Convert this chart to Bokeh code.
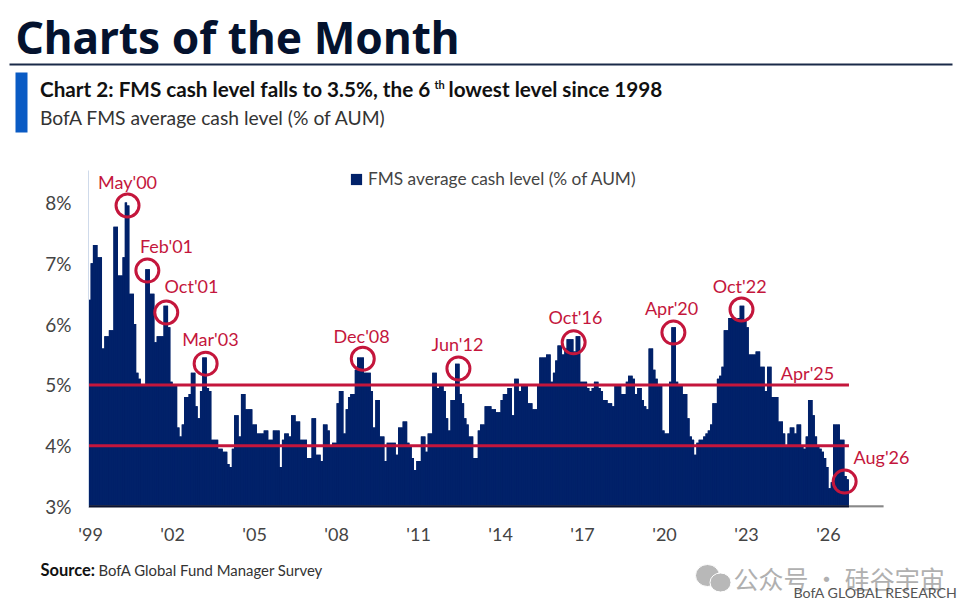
import numpy as np
from bokeh.core.properties import value
from bokeh.embed import file_html
from bokeh.layouts import column
from bokeh.models import FixedTicker, Legend, LegendItem, Range1d
from bokeh.plotting import figure
from bokeh.resources import INLINE

cash_level = [
 6.4, 7.0, 7.3, 7.3, 7.1, 7.1, 5.6, 5.8, 5.8, 5.9, 5.9, 7.6,
 7.6, 6.8, 6.8, 7.1, 8.0, 7.95, 6.5, 6.5, 6.0, 5.2, 5.1, 5.0,
 5.0, 6.9, 6.9, 6.5, 6.5, 5.7, 5.8, 5.8, 5.8, 6.3, 6.3, 5.95,
 5.05, 5.0, 5.0, 4.3, 4.15, 4.35, 4.8, 4.8, 4.85, 5.2, 5.2, 4.65,
 4.45, 4.9, 5.45, 5.45, 4.95, 4.9, 4.1, 4.1, 4.1, 3.95, 3.95, 3.9,
 3.9, 3.7, 3.65, 3.95, 4.5, 4.5, 4.15, 4.85, 4.85, 4.6, 4.6, 4.6,
 4.35, 4.35, 4.2, 4.2, 4.2, 4.25, 4.25, 4.1, 4.1, 4.25, 4.25, 4.25,
 3.65, 4.1, 4.2, 4.2, 4.15, 4.5, 4.5, 4.4, 4.4, 4.1, 4.1, 4.1,
 3.8, 3.8, 4.45, 4.45, 3.85, 3.85, 3.75, 4.35, 4.35, 4.25, 4.0, 4.05,
 4.05, 4.7, 4.9, 4.9, 4.2, 4.6, 4.8, 4.85, 4.85, 5.25, 5.45, 5.45,
 5.45, 5.2, 5.2, 5.2, 4.9, 4.3, 4.75, 4.75, 4.15, 4.15, 3.75, 4.05,
 4.05, 4.05, 4.05, 3.85, 4.3, 4.3, 4.4, 4.4, 4.05, 4.0, 3.8, 3.6,
 3.75, 3.75, 4.15, 4.15, 3.9, 4.2, 4.2, 5.2, 5.2, 4.95, 5.0, 5.0,
 4.9, 4.45, 4.25, 4.75, 4.75, 5.35, 5.35, 4.85, 4.7, 4.45, 4.35, 4.15,
 4.15, 3.8, 3.8, 4.25, 4.35, 4.35, 4.65, 4.65, 4.65, 4.6, 4.6, 4.55,
 4.55, 4.75, 4.85, 4.85, 4.95, 4.95, 4.5, 5.1, 5.1, 4.9, 5.0, 5.0,
 5.0, 4.7, 4.7, 4.6, 4.6, 5.0, 5.45, 5.45, 5.45, 5.5, 5.5, 5.05,
 5.2, 5.4, 5.65, 5.65, 5.5, 5.6, 5.75, 5.75, 5.75, 5.55, 5.8, 5.8,
 5.05, 5.05, 5.05, 4.95, 4.9, 4.95, 5.05, 5.05, 4.95, 4.9, 4.75, 4.75,
 4.7, 4.7, 4.65, 5.0, 5.0, 5.0, 4.85, 4.85, 5.05, 5.15, 5.15, 5.1, 4.85,
 4.95, 4.95, 4.75, 4.65, 4.6, 5.6, 5.6, 5.25, 5.1, 5.0, 5.0, 4.25,
 4.2, 4.2, 5.05, 5.95, 5.95, 5.05, 5.0, 5.0, 4.85, 4.85, 4.45, 4.15,
 4.1, 3.85, 4.05, 4.1, 4.1, 4.15, 4.2, 4.25, 4.35, 4.7, 4.7, 5.1,
 5.15, 5.3, 5.9, 5.9, 6.1, 6.1, 6.1, 6.05, 6.1, 6.3, 6.3, 6.05,
 5.95, 5.5, 5.5, 5.5, 5.55, 5.55, 5.3, 5.3, 4.9, 5.3, 5.3, 4.8,
 4.8, 4.8, 4.4, 4.4, 4.2, 4.0, 4.2, 4.3, 4.3, 4.2, 4.35, 4.35,
 4.0, 3.95, 4.15, 4.75, 4.75, 4.5, 4.15, 4.0, 3.95, 3.9, 3.8, 3.65,
 3.3, 3.4, 4.35, 4.35, 4.35, 4.1, 4.1, 3.5, 3.45,
]
year_labels = ["'99", "'02", "'05", "'08", "'11", "'14", "'17", "'20", "'23", "'26"]
year_months = [0, 36, 72, 108, 144, 180, 216, 252, 288, 324]
y_ticks = [3, 4, 5, 6, 7, 8]
event_months = [16.7, 25.4, 33.7, 51, 120, 162, 212.6, 256.4, 286.3, 331.6]
event_levels = [7.95, 6.88, 6.19, 5.35, 5.43, 5.27, 5.70, 5.86, 6.24, 3.41]
label_names = ["May'00", "Feb'01", "Oct'01", "Mar'03", "Dec'08", "Jun'12", "Oct'16", "Apr'20", "Oct'22", "Apr'25", "Aug'26"]
label_x = [16.7, 33.8, 44.8, 53.1, 119.5, 161.6, 213.4, 255.6, 285.5, 315.3, 347.8]
label_y = [8.33, 7.28, 6.62, 5.75, 5.81, 5.68, 6.11, 6.26, 6.63, 5.2, 3.81]
threshold_levels = [5, 4]

NAVY, RED = "#012169", "#C4163C"
W = 960
FONT = "Lato"


def panel(y0, y1):
    f = figure(width=W, height=y1 - y0, output_backend="svg", toolbar_location=None,
               x_range=Range1d(0, W), y_range=Range1d(y1, y0), x_axis_type=None, y_axis_type=None,
               min_border=0, min_border_left=0, min_border_right=0, min_border_top=0, min_border_bottom=0,
               frame_align=False)
    f.grid.visible = False
    f.outline_line_color = None
    return f


def add_text(f, x, y, text, size, color="#222222", style="normal", font=FONT):
    f.text([x], [y], text=[text], text_font=value(font), text_font_size=f"{size}px", text_color=color,
           text_font_style=style, text_baseline="middle", text_align="left")


def add_box(f, x0, x1, y0, y1, color):
    f.quad(left=[x0], right=[x1], top=[y0], bottom=[y1], fill_color=color, line_color=None)


header = panel(0, 170)
add_text(header, 15, 36, "Charts of the Month", 44.2, "#04122e", "bold", "Noto Sans")
add_box(header, 9, 952, 63, 65, "#1a2a48")
add_box(header, 15, 27, 72, 132, "#0A5BC4")
add_text(header, 39.5, 88.5, "Chart 2: FMS cash level falls to 3.5%, the 6", 20.7, "#111111", "bold")
add_text(header, 434, 84, "th", 11, "#111111", "bold")
add_text(header, 448, 88.5, "lowest level since 1998", 20.7, "#111111", "bold")
add_text(header, 39.5, 116.5, "BofA FMS average cash level (% of AUM)", 19.3, "#333333")

months = list(range(len(cash_level)))
p = figure(width=W, height=380, output_backend="svg", toolbar_location=None,
           x_range=Range1d(-0.44, 369.3), y_range=Range1d(2.984, 8.526),
           min_border_left=88, min_border_right=30, min_border_top=0, min_border_bottom=43,
           frame_align=False)
p.grid.visible = False
p.outline_line_color = None

p.varea_step(x=months, y1=[3] * len(months), y2=cash_level, step_mode="center", fill_color=NAVY)
bars = p.vbar(x=months, top=cash_level, bottom=3, width=1.0, fill_color=NAVY, line_color=None)

p.segment([-0.44], [3.0], [348.7], [3.0], line_color="#888888", line_width=2.5)
p.segment([-0.44], [3.0], [len(months) - 0.5], [3.0], line_color="#0a1230", line_width=2.5)
for lv in threshold_levels:
    p.segment([-0.44], [lv], [len(months) - 0.5], [lv], line_color=RED, line_width=3)

p.scatter(event_months, event_levels, marker="circle", size=23, fill_color=None,
          line_color=RED, line_width=3)
p.text(label_x, label_y, text=label_names, text_color=RED, text_font=value(FONT),
       text_font_size="18px", text_align="center", text_baseline="middle")

p.xaxis.ticker = FixedTicker(ticks=[m + 0.5 for m in year_months])
p.xaxis.major_label_overrides = {m + 0.5: l for m, l in zip(year_months, year_labels)}
p.xaxis.axis_line_color = None
p.xaxis.major_tick_line_color = None
p.xaxis.minor_tick_line_color = None
p.xaxis.major_label_standoff = 9
p.xaxis.major_label_text_font = FONT
p.xaxis.major_label_text_font_size = "18px"
p.xaxis.major_label_text_color = "#444444"

p.yaxis.ticker = FixedTicker(ticks=y_ticks)
p.yaxis.major_label_overrides = {t: f"{t}%" for t in y_ticks}
p.yaxis.axis_line_color = "#cfdaea"
p.yaxis.major_tick_line_color = None
p.yaxis.minor_tick_line_color = None
p.yaxis.major_label_standoff = 11
p.yaxis.major_label_text_font = FONT
p.yaxis.major_label_text_font_size = "19px"
p.yaxis.major_label_text_color = "#444444"

legend = Legend(items=[LegendItem(label="FMS average cash level (% of AUM)", renderers=[bars])],
                location=(261, 318), orientation="horizontal", border_line_color=None,
                background_fill_color=None, glyph_width=14, glyph_height=14,
                label_text_font=FONT, label_text_font_size="17.3px", label_text_color="#444444",
                label_standoff=5, margin=0, padding=8)
p.add_layout(legend, "center")

footer = panel(550, 600)
add_text(footer, 40, 569, "Source:", 16.5, "#111111", "bold")
add_text(footer, 98, 569, "BofA Global Fund Manager Survey", 14.9, "#333333")
footer.ellipse([707, 720], [575, 582], width=[24, 21], height=[22, 19], fill_color="#b8b8b8",
               line_color="white", line_width=1)
add_text(footer, 733, 577, "公众号 · 硅谷宇宙", 25, "#b0b0b0", font="Noto Sans CJK SC")
add_text(footer, 793, 592, "BofA GLOBAL RESEARCH", 14.2, "#555555")

page = column(header, p, footer, spacing=0)
open("out.html", "w").write(file_html(page, INLINE))
